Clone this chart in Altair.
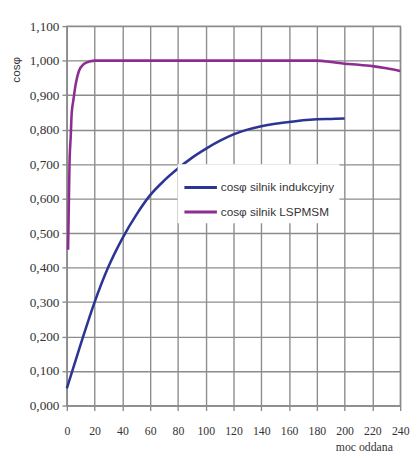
import altair as alt
import pandas as pd

# induction motor
x_ind = [0, 10, 20, 30, 40, 50, 60, 70, 80, 90, 100,
         110, 120, 130, 140, 150, 160, 170, 180, 190, 200]
y_ind = [0.05, 0.178, 0.30, 0.403, 0.485, 0.553, 0.61, 0.652, 0.687, 0.718,
         0.744, 0.767, 0.786, 0.80, 0.81, 0.817, 0.822, 0.827, 0.83, 0.831,
         0.832]

# LSPMSM
x_pm = [0.9, 1.4, 1.9, 2.8, 3.5, 4.7, 6.4, 8.7, 12.2, 17, 20, 60, 100, 140,
        180, 190, 200, 210, 220, 230, 240]
y_pm = [0.452, 0.573, 0.695, 0.78, 0.847, 0.885, 0.932, 0.97, 0.99, 0.998,
        1.0, 1.0, 1.0, 1.0, 1.0, 0.996, 0.991, 0.988, 0.984, 0.978, 0.97]

names = ["cosφ silnik indukcyjny", "cosφ silnik LSPMSM"]
colors = ["#2d3594", "#8e2d91"]

x_ticks = list(range(0, 241, 20))
y_ticks = [round(i * 0.1, 1) for i in range(12)]

df = pd.concat([
    pd.DataFrame({"x": x_ind, "y": y_ind, "s": names[0], "o": range(len(x_ind))}),
    pd.DataFrame({"x": x_pm, "y": y_pm, "s": names[1], "o": range(len(x_pm))}),
])

chart = alt.Chart(df).mark_line(strokeWidth=2.6, interpolate="monotone").encode(
    x=alt.X("x:Q",
            scale=alt.Scale(domain=[0, 240], nice=False),
            axis=alt.Axis(values=x_ticks, title="moc oddana",
                          titleX=332, titleY=42,
                          titleAlign="right", titleBaseline="middle",
                          titleFont="Liberation Serif", titleFontSize=12,
                          titleFontWeight="normal", titleColor="#333",
                          labelFont="Liberation Serif", labelFontSize=12,
                          labelColor="#333", labelPadding=16,
                          tickSize=5, labelFlush=False)),
    y=alt.Y("y:Q",
            scale=alt.Scale(domain=[0, 1.1], nice=False),
            axis=alt.Axis(values=y_ticks, title="cosφ",
                          labelExpr="replace(format(datum.value, '.3f'), '.', ',')",
                          titleX=-52, titleY=44, titleAlign="center",
                          titleBaseline="middle", titleAngle=-90,
                          titleFont="Liberation Sans", titleFontSize=12,
                          titleFontWeight="normal", titleColor="#333",
                          labelFont="Liberation Serif", labelFontSize=13.5,
                          labelColor="#333", labelPadding=3,
                          tickSize=5)),
    color=alt.Color("s:N",
                    scale=alt.Scale(domain=names, range=colors),
                    legend=alt.Legend(title=None, orient="none",
                                      legendX=113, legendY=141,
                                      fillColor="white", padding=5,
                                      symbolType="stroke", symbolSize=1100,
                                      symbolStrokeWidth=3, labelOffset=2,
                                      labelFont="Liberation Sans",
                                      labelFontSize=12, labelColor="#333",
                                      rowPadding=0, labelLimit=300)),
    order="o:Q",
).properties(
    width=340, height=387,
    padding={"left": 60, "top": 14, "right": 11, "bottom": 50},
    autosize=alt.AutoSizeParams(type="none"),
).configure_axis(
    gridColor="#8c8c8c", gridWidth=1.4, gridOpacity=1,
    domainColor="#8c8c8c", domainWidth=1.4,
    tickColor="#8c8c8c", tickWidth=1.4,
).configure_view(stroke="#8c8c8c", strokeWidth=1.4)

chart.save("out.html", embed_options={"renderer": "svg", "actions": False})
